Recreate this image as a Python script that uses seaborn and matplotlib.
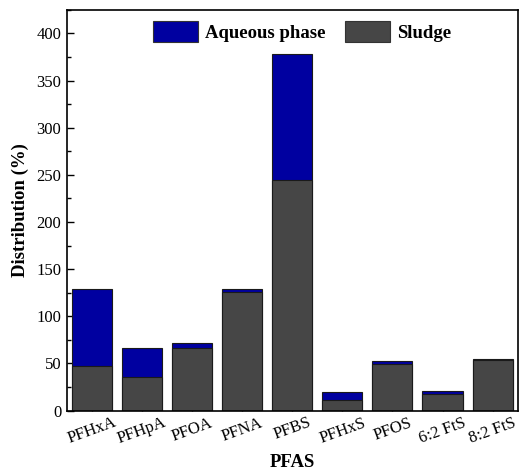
import matplotlib
matplotlib.use("Agg")
import matplotlib.pyplot as plt
import seaborn as sns
import pandas as pd
from matplotlib.patches import Patch
from matplotlib.ticker import MultipleLocator

# PFAS compounds and their mass distribution (%) between sludge and aqueous phase
compounds = ["PFHxA", "PFHpA", "PFOA", "PFNA", "PFBS", "PFHxS", "PFOS", "6:2 FtS", "8:2 FtS"]
sludge = [47, 36, 66, 125.5, 245, 11.5, 49.5, 17.5, 53.5]
aqueous = [82, 30.5, 5.5, 3.5, 133, 8, 3, 3.5, 1]

df = pd.DataFrame({"PFAS": compounds, "Sludge": sludge, "Aqueous": aqueous})
df["Total"] = df["Sludge"] + df["Aqueous"]

blue = "#0000a0"
gray = "#464646"

sns.set_theme(style="ticks")
plt.rcParams["font.family"] = ["Liberation Serif", "DejaVu Serif"]
plt.rcParams["text.color"] = "black"
plt.rcParams["axes.labelcolor"] = "black"
plt.rcParams["xtick.color"] = "black"
plt.rcParams["ytick.color"] = "black"

fig = plt.figure(figsize=(5.19, 4.72), dpi=100)
ax = fig.add_axes([0.1285, 0.130, 0.869, 0.849])

# stacked bars: total (aqueous on top) first, then sludge over it
sns.barplot(data=df, x="PFAS", y="Total", color=blue, saturation=1, width=0.8,
            edgecolor="#1a1a1a", linewidth=0.8, ax=ax)
sns.barplot(data=df, x="PFAS", y="Sludge", color=gray, saturation=1, width=0.8,
            edgecolor="#1a1a1a", linewidth=0.8, ax=ax)

ax.set_xlim(-0.5, 8.5)
ax.set_ylim(0, 425)
ax.yaxis.set_major_locator(MultipleLocator(50))
ax.yaxis.set_minor_locator(MultipleLocator(25))
ax.tick_params(axis="both", which="both", direction="in", top=False, right=False)
ax.tick_params(axis="y", which="major", length=5, width=1.0, labelsize=12, pad=4)
ax.tick_params(axis="y", which="minor", length=3, width=1.0)
ax.tick_params(axis="x", which="major", length=5, width=1.0, labelsize=12, pad=3)
for lbl in ax.get_xticklabels():
    lbl.set_rotation(20)
    lbl.set_ha("center")

for sp in ax.spines.values():
    sp.set_linewidth(1.2)
    sp.set_color("black")

ax.set_xlabel("PFAS", fontsize=13.5, fontweight="bold", labelpad=5)
ax.set_ylabel("Distribution (%)", fontsize=13.5, fontweight="bold", labelpad=5)

handles = [Patch(facecolor=blue, edgecolor="#333333", linewidth=0.8, label="Aqueous phase"),
           Patch(facecolor=gray, edgecolor="#333333", linewidth=0.8, label="Sludge")]
ax.legend(handles=handles, loc="upper center", bbox_to_anchor=(0.522, 1.0), ncol=2,
          frameon=False, prop={"size": 13.5, "weight": "bold"}, borderaxespad=0.2,
          handlelength=2.4, handleheight=1.3, handletextpad=0.4, columnspacing=1.0)

fig.savefig("out.png", dpi=100)
